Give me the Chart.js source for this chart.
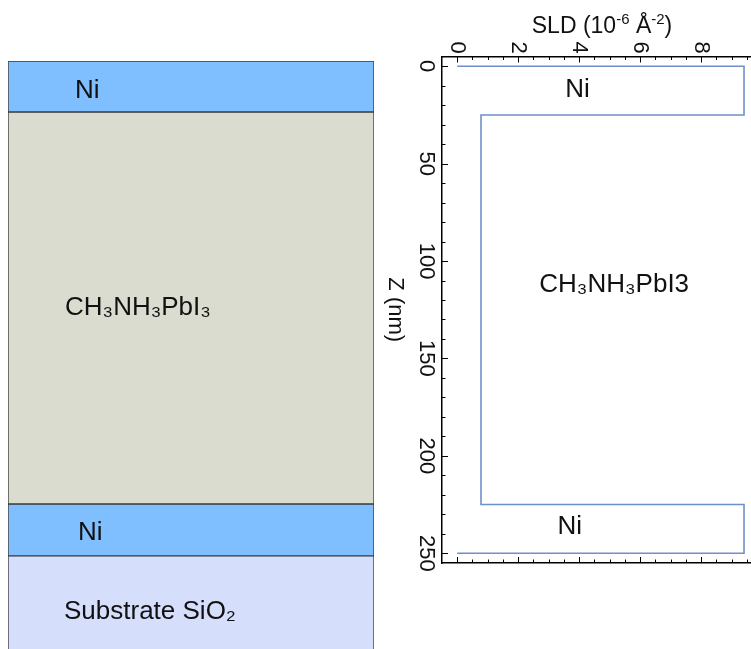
<!DOCTYPE html>
<html>
<head>
<meta charset="utf-8">
<script src="https://cdn.jsdelivr.net/npm/chart.js@4/dist/chart.umd.min.js"></script>
<style>
  html, body { margin: 0; padding: 0; background: #fff; overflow: hidden; }
  body { width: 751px; height: 649px; position: relative; }
  #stack { position: absolute; left: 0; top: 0; }
  #sld { position: absolute; left: 370px; top: 0; }
</style>
</head>
<body>
<canvas id="stack" width="380" height="649"></canvas>
<canvas id="sld" width="400" height="649"></canvas>
<script>
// layer stack (top to bottom), thickness in nm as drawn in the sketch
var layerNames = ['Ni', 'CH₃NH₃PbI₃', 'Ni', 'Substrate SiO₂'];
var layerThickness = [26, 200, 26.5, 60];
var layerLabelDepth = [15, 126, 240.5, 281];

// SLD profile: layer boundaries (nm) and SLD of each layer (10^-6 A^-2)
var zBounds = [0, 25, 225, 250];
var layerSld = [9.41, 0.78, 9.41];
var ambientSld = 0;
var profileNames = ['Ni', 'CH₃NH₃PbI3', 'Ni'];
var profileLabelSld = [3.95, 5.15, 3.69];
var profileLabelZ = [12.1, 112.3, 236.5];

// x title pieces: [text, superscript?]
var sldTitle = [['SLD (10', 0], ['-6', 1], [' Å', 0], ['-2', 1], [')', 0]];

var FONT = '"Liberation Sans", Arial, sans-serif';
Chart.defaults.font.family = FONT;

var layerColors = ['#80bfff', '#dadcd0', '#80bfff', '#d5defa'];
var labelLeft = [67, 57, 70, 56];

var stackLabels = {
    id: 'stackLabels',
    afterDatasetsDraw: function (chart) {
        var ctx = chart.ctx;
        var y = chart.scales.y;
        ctx.save();
        ctx.fillStyle = '#111';
        ctx.font = '26px ' + FONT;
        ctx.textAlign = 'left';
        ctx.textBaseline = 'middle';
        layerNames.forEach(function (name, i) {
            ctx.fillText(name, chart.chartArea.left + labelLeft[i], y.getPixelForValue(layerLabelDepth[i]));
        });
        ctx.restore();
    }
};

new Chart(document.getElementById('stack'), {
    type: 'bar',
    data: {
        labels: ['stack'],
        datasets: layerNames.map(function (name, i) {
            return {
                label: name,
                data: [layerThickness[i]],
                backgroundColor: layerColors[i],
                borderColor: '#3a3a3a',
                borderWidth: 1,
                borderSkipped: false,
                barPercentage: 1,
                categoryPercentage: 1
            };
        })
    },
    options: {
        responsive: false,
        animation: false,
        layout: { padding: { left: 8, right: 6, top: 61, bottom: 0 } },
        plugins: { legend: { display: false }, tooltip: { enabled: false } },
        scales: {
            x: { display: false, stacked: true },
            y: { display: false, stacked: true, reverse: true, min: 0, max: 300 }
        }
    },
    plugins: [stackLabels]
});

// build the step profile from the layer table
var profile = [{ x: ambientSld, y: zBounds[0] }];
layerSld.forEach(function (s, i) {
    profile.push({ x: s, y: zBounds[i] });
    profile.push({ x: s, y: zBounds[i + 1] });
});
profile.push({ x: ambientSld, y: zBounds[zBounds.length - 1] });

var axisDeco = {
    id: 'axisDeco',
    afterDraw: function (chart) {
        var ctx = chart.ctx;
        var a = chart.chartArea;
        var xs = chart.scales.x, ys = chart.scales.y;
        ctx.save();
        ctx.strokeStyle = '#000';
        ctx.lineWidth = 1;
        ctx.beginPath();
        // inward ticks, minor every 0.5 / 10, major every 2 / 50
        for (var v = 0; v <= 10; v += 0.5) {
            var px = Math.round(xs.getPixelForValue(v)) + 0.5;
            if (px < a.left || px > a.right) continue;
            var len = (v % 2 === 0) ? 6 : 3.5;
            ctx.moveTo(px, a.top); ctx.lineTo(px, a.top + len);
            ctx.moveTo(px, a.bottom); ctx.lineTo(px, a.bottom - len);
        }
        for (var z = 0; z <= 250; z += 10) {
            var py = Math.round(ys.getPixelForValue(z)) + 0.5;
            var l2 = (z % 50 === 0) ? 6 : 3.5;
            ctx.moveTo(a.left, py); ctx.lineTo(a.left + l2, py);
        }
        ctx.stroke();

        // rotated tick labels
        ctx.fillStyle = '#111';
        ctx.font = '22px ' + FONT;
        ctx.textAlign = 'center';
        ctx.textBaseline = 'middle';
        xs.ticks.forEach(function (t) {
            ctx.save();
            ctx.translate(xs.getPixelForValue(t.value), 47.5);
            ctx.rotate(Math.PI / 2);
            ctx.fillText(String(t.value), 0, 0);
            ctx.restore();
        });
        ys.ticks.forEach(function (t) {
            ctx.save();
            ctx.translate(a.left - 16, ys.getPixelForValue(t.value));
            ctx.rotate(Math.PI / 2);
            ctx.fillText(String(t.value), 0, 0);
            ctx.restore();
        });
        ctx.save();
        ctx.translate(25, (a.top + a.bottom) / 2);
        ctx.rotate(Math.PI / 2);
        ctx.fillText('Z (nm)', 0, 0);
        ctx.restore();

        // x title with superscripts
        var big = '23px ' + FONT, small = '15px ' + FONT;
        var total = 0;
        sldTitle.forEach(function (p) {
            ctx.font = p[1] ? small : big;
            total += ctx.measureText(p[0]).width;
        });
        var tx = (a.left + a.right) / 2 - total / 2;
        ctx.textAlign = 'left';
        ctx.textBaseline = 'alphabetic';
        sldTitle.forEach(function (p) {
            ctx.font = p[1] ? small : big;
            ctx.fillText(p[0], tx, p[1] ? 24 : 33);
            tx += ctx.measureText(p[0]).width;
        });

        // layer names inside the profile
        ctx.textAlign = 'center';
        ctx.textBaseline = 'middle';
        ctx.font = '26px ' + FONT;
        profileNames.forEach(function (name, i) {
            ctx.fillText(name, xs.getPixelForValue(profileLabelSld[i]), ys.getPixelForValue(profileLabelZ[i]));
        });
        ctx.restore();
    }
};

var frame = { display: true, color: '#000', width: 1.5 };

new Chart(document.getElementById('sld'), {
    type: 'scatter',
    data: {
        datasets: [{
            data: profile,
            showLine: true,
            borderColor: '#6d8fcb',
            borderWidth: 1.6,
            pointRadius: 0,
            tension: 0,
            fill: false
        }]
    },
    options: {
        responsive: false,
        animation: false,
        layout: { padding: { left: 0, right: 8, top: 0, bottom: 86 } },
        plugins: { legend: { display: false }, tooltip: { enabled: false } },
        scales: {
            x: {
                position: 'top', min: -0.5, max: 10,
                ticks: { display: false, stepSize: 2, includeBounds: false },
                grid: { display: false },
                border: frame,
                afterFit: function (s) { s.height = 56.5; }
            },
            x2: {
                position: 'bottom', min: -0.5, max: 10,
                ticks: { display: false },
                grid: { display: false },
                border: frame,
                afterFit: function (s) { s.height = 0; }
            },
            y: {
                reverse: true, min: -5, max: 255,
                ticks: { display: false, stepSize: 50, includeBounds: false },
                grid: { display: false },
                border: frame,
                afterFit: function (s) { s.width = 72; }
            }
        }
    },
    plugins: [axisDeco]
});
</script>
</body>
</html>
